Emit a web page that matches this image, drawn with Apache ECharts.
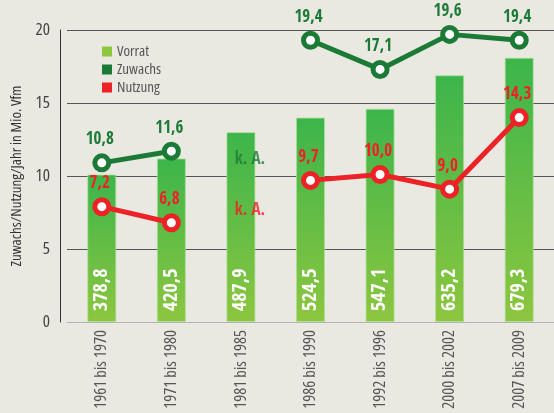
<!DOCTYPE html>
<html>
<head>
<meta charset="utf-8">
<script src="https://cdn.jsdelivr.net/npm/echarts@6/dist/echarts.min.js"></script>
<style>
  html, body { margin: 0; padding: 0; background: #e9e8e1; }
  #chart { width: 554px; height: 413px; }
</style>
</head>
<body>
<div id="chart"></div>
<script>
// Daten
const categories = ['1961 bis 1970', '1971 bis 1980', '1981 bis 1985', '1986 bis 1990', '1992 bis 1996', '2000 bis 2002', '2007 bis 2009'];
const vorratHeights = [10.1, 11.2, 13.0, 14.0, 14.6, 16.9, 18.1];
const vorratLabels = ['378,8', '420,5', '487,9', '524,5', '547,1', '635,2', '679,3'];
const zuwachs = [10.9, 11.7, '-', 19.3, 17.3, 19.7, 19.3];
const zuwachsLabels = ['10,8', '11,6', '', '19,4', '17,1', '19,6', '19,4'];
const nutzung = [7.9, 6.8, '-', 9.7, 10.1, 9.1, 14.0];
const nutzungLabels = ['7,2', '6,8', '', '9,7', '10,0', '9,0', '14,3'];
const kaZuwachs = [[2, 11.1]];
const kaNutzung = [[2, 7.6]];

// schmale Schriften (font-stretch über fontStyle)
const LIGHT = { fontFamily: '"Open Sans"', fontStyle: 'condensed', fontWeight: 'normal' };
const BOLD = { fontFamily: '"Open Sans Condensed"', fontWeight: 'bold' };
const GREEN_DARK = '#1b7a36';
const RED = '#ec2227';
const GREEN_LIGHT = '#8dc63f';

const chart = echarts.init(document.getElementById('chart'));

const pointLabel = (labels, color) => Object.assign({
    show: true,
    position: 'top',
    distance: 5,
    offset: [-2, 0],
    formatter: p => labels[p.dataIndex],
    fontSize: 17,
    color: color
}, BOLD);

const kaLabel = (color) => Object.assign({
    show: true,
    position: 'inside',
    offset: [9, 0],
    formatter: 'k. A.',
    fontSize: 17,
    color: color
}, BOLD);

const option = {
    backgroundColor: '#e9e8e1',
    animation: false,
    grid: { left: 67, right: 0, top: 30, bottom: 91, outerBoundsMode: 'none' },
    legend: {
        orient: 'vertical',
        left: 102,
        top: 44,
        padding: 0,
        itemWidth: 10,
        itemHeight: 10,
        itemGap: 3,
        icon: 'rect',
        textStyle: Object.assign({ fontSize: 15, color: '#555' }, LIGHT),
        data: [
            { name: 'Vorrat', itemStyle: { color: GREEN_LIGHT, borderWidth: 0 } },
            { name: 'Zuwachs', itemStyle: { color: GREEN_DARK, borderWidth: 0 } },
            { name: 'Nutzung', itemStyle: { color: RED, borderWidth: 0 } }
        ]
    },
    xAxis: {
        type: 'category',
        data: categories,
        axisLine: { lineStyle: { color: '#b5b5b0', width: 1 } },
        axisTick: { show: false },
        axisLabel: Object.assign({
            rotate: 90,
            margin: 8,
            interval: 0,
            fontSize: 16.5,
            color: '#555'
        }, LIGHT)
    },
    yAxis: {
        type: 'value',
        min: 0,
        max: 20,
        interval: 5,
        offset: 7,
        name: 'Zuwachs/Nutzung/Jahr in Mio. Vfm',
        nameLocation: 'middle',
        nameGap: 33,
        nameTextStyle: Object.assign({ fontSize: 15, color: '#333' }, LIGHT),
        axisLine: { show: true, lineStyle: { color: '#333', width: 1 } },
        axisTick: { show: false },
        axisLabel: Object.assign({ fontSize: 17, color: '#444', margin: 10 }, LIGHT),
        splitLine: { lineStyle: { color: '#555', width: 1 } }
    },
    series: [
        {
            name: 'Vorrat',
            type: 'bar',
            data: vorratHeights,
            barWidth: 29,
            itemStyle: {
                color: new echarts.graphic.LinearGradient(0, 0, 0, 1, [
                    { offset: 0, color: '#3cb54b' },
                    { offset: 1, color: '#8dc63f' }
                ]),
                borderColor: 'rgba(170,225,150,0.7)',
                borderWidth: 1
            },
            label: Object.assign({
                show: true,
                position: 'insideBottom',
                rotate: 90,
                align: 'left',
                verticalAlign: 'middle',
                distance: 11,
                formatter: p => vorratLabels[p.dataIndex],
                fontSize: 20,
                color: '#fff'
            }, BOLD)
        },
        {
            name: 'Zuwachs',
            type: 'line',
            data: zuwachs,
            connectNulls: false,
            symbol: 'circle',
            symbolSize: 14,
            lineStyle: { color: GREEN_DARK, width: 5 },
            itemStyle: { color: '#fff', borderColor: GREEN_DARK, borderWidth: 5 },
            label: pointLabel(zuwachsLabels, GREEN_DARK),
            z: 5
        },
        {
            name: 'Nutzung',
            type: 'line',
            data: nutzung,
            connectNulls: false,
            symbol: 'circle',
            symbolSize: 14,
            lineStyle: { color: RED, width: 5 },
            itemStyle: { color: '#fff', borderColor: RED, borderWidth: 5 },
            label: pointLabel(nutzungLabels, RED),
            z: 5
        },
        {
            name: 'kA-Zuwachs',
            type: 'scatter',
            data: kaZuwachs,
            symbolSize: 0,
            label: kaLabel(GREEN_DARK),
            z: 6
        },
        {
            name: 'kA-Nutzung',
            type: 'scatter',
            data: kaNutzung,
            symbolSize: 0,
            label: kaLabel(RED),
            z: 6
        }
    ]
};

chart.setOption(option);
</script>
</body>
</html>
